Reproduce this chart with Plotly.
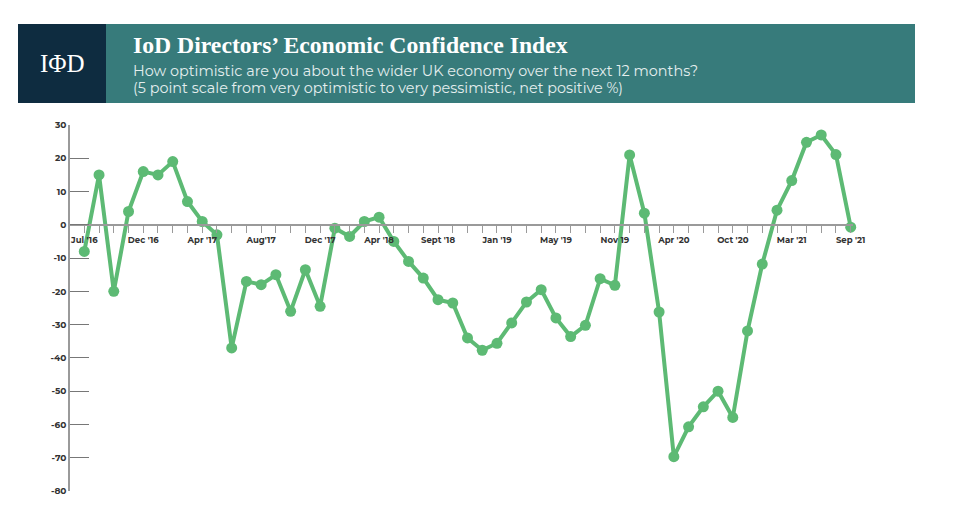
import plotly.graph_objects as go

# ---- data ----
values = [-8, 15, -20, 4, 16, 15, 19, 7, 1, -3,
          -37, -17, -18, -15, -26, -13.5, -24.5, -1, -3.5, 1,
          2.3, -5, -11, -16, -22.5, -23.5, -34, -37.7, -35.6, -29.5,
          -23.2, -19.5, -28, -33.6, -30.2, -16.2, -18.2, 21, 3.5, -26.2,
          -69.7, -60.7, -54.7, -50, -57.9, -31.9, -11.8, 4.4, 13.3, 24.8,
          27, 21.1, -0.7]
label_positions = [0, 4, 8, 12, 16, 20, 24, 28, 32, 36, 40, 44, 48, 52]
label_texts = ["Jul '16", "Dec '16", "Apr '17", "Aug'17", "Dec '17", "Apr '18",
               "Sept '18", "Jan '19", "May '19", "Nov 19", "Apr '20", "Oct '20",
               "Mar '21", "Sep '21"]
y_ticks = [30, 20, 10, 0, -10, -20, -30, -40, -50, -60, -70, -80]
y_tick_texts = ["30", "20", "10", "0", "-10", "-20", "-30", "-40", "-50", "-60", "-70", "-80"]

title = "IoD Directors’ Economic Confidence Index"
sub1 = "How optimistic are you about the wider UK economy over the next 12 months?"
sub2 = "(5 point scale from very optimistic to very pessimistic, net positive %)"

x = list(range(len(values)))
ticktext = []
for i in x:
    ticktext.append(label_texts[label_positions.index(i)] if i in label_positions else "")

# page offset (body margin of the html page)
OFF = 8
W, H = 960 - OFF, 520 - OFF
L, R, T, B = 70 - OFF, 853 - OFF, 125 - OFF, 490.7 - OFF
ymin, ymax = -80, 30
step = (850.7 - 84.3) / 52
x0 = -(84.3 - 70) / step
x1 = 52 + (853 - 850.7) / step


def px(xp):
    return (xp - OFF - L) / (R - L)


def py(yp):
    return (B - (yp - OFF)) / (B - T)


fig = go.Figure()
fig.add_trace(go.Scatter(
    x=x, y=values, mode="lines+markers",
    line=dict(color="#5dba74", width=4),
    marker=dict(color="#5dba74", size=11),
    cliponaxis=False, hoverinfo="y",
))

axis_gray = "#9a9a9a"
tick_font = dict(family="Montserrat, 'Open Sans', Arial, sans-serif", size=9, color="#333333", weight="bold")

fig.update_layout(
    width=W, height=H,
    margin=dict(l=L, r=W - R, t=T, b=H - B, pad=0),
    paper_bgcolor="white", plot_bgcolor="white",
    showlegend=False,
    xaxis=dict(
        range=[x0, x1], showgrid=False, zeroline=False,
        showline=True, linecolor=axis_gray, linewidth=1.5,
        anchor="free", position=(0 - ymin) / (ymax - ymin),
        tickvals=x, ticktext=ticktext, ticks="outside", ticklen=7,
        tickwidth=1.2, tickcolor=axis_gray, tickfont=dict(tick_font, size=8.5),
        tickangle=0,
    ),
    yaxis=dict(
        range=[ymin, ymax], showgrid=False, zeroline=False,
        showline=True, linecolor=axis_gray, linewidth=1.5,
        tickvals=y_ticks, ticktext=y_tick_texts, ticks="inside", ticklen=19,
        tickwidth=1.2, tickcolor="#777777", tickfont=tick_font,
    ),
)

# header boxes
fig.add_shape(type="rect", xref="paper", yref="paper",
              x0=px(106), x1=px(915), y0=py(103), y1=py(24),
              fillcolor="#377b7b", line=dict(width=0), layer="above")
fig.add_shape(type="rect", xref="paper", yref="paper",
              x0=px(18), x1=px(106), y0=py(103), y1=py(24),
              fillcolor="#0e2c40", line=dict(width=0), layer="above")

fig.add_annotation(xref="paper", yref="paper", x=px(62), y=py(64),
                   text="IΦD", showarrow=False, xanchor="center", yanchor="middle",
                   font=dict(family="'Liberation Serif', 'DejaVu Serif', serif", size=25, color="white"))
fig.add_annotation(xref="paper", yref="paper", x=px(131), y=py(45),
                   text="<b>" + title + "</b>", showarrow=False, xanchor="left", yanchor="middle",
                   font=dict(family="'Liberation Serif', 'DejaVu Serif', serif", size=23.7, color="white"))
fig.add_annotation(xref="paper", yref="paper", x=px(131), y=py(71),
                   text=sub1, showarrow=False, xanchor="left", yanchor="middle",
                   font=dict(family="Montserrat, 'Open Sans', Arial, sans-serif", size=14.4, color="#e4eeee"))
fig.add_annotation(xref="paper", yref="paper", x=px(131), y=py(88),
                   text=sub2, showarrow=False, xanchor="left", yanchor="middle",
                   font=dict(family="Montserrat, 'Open Sans', Arial, sans-serif", size=14.4, color="#e4eeee"))

fig.write_html("out.html")
